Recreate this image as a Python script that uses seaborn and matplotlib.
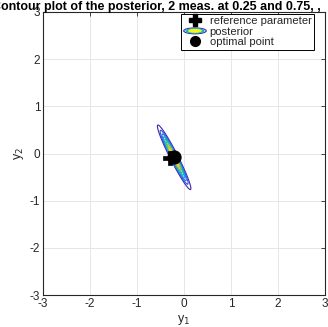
import numpy as np
import pandas as pd
import matplotlib
matplotlib.use("Agg")
import matplotlib.pyplot as plt
import seaborn as sns
from matplotlib.colors import LinearSegmentedColormap
from matplotlib.lines import Line2D
from matplotlib.patches import Ellipse
from matplotlib.legend_handler import HandlerPatch

# Posterior (Gaussian) parameters
post_mean = [-0.21, -0.08]
post_sigma_major = 0.35
post_sigma_minor = 0.038
post_angle_deg = -63.0

# Marked points
ref_param = [-0.30, -0.10]
opt_point = [-0.21, -0.07]

# Axis ticks
ticks = [-3, -2, -1, 0, 1, 2, 3]

sns.set_style("whitegrid")
plt.rcParams["font.family"] = ["Liberation Sans", "DejaVu Sans"]

parula = LinearSegmentedColormap.from_list(
    "parula_like",
    ["#3e26a8", "#2e5ff8", "#1a94dc", "#12b5c0", "#3cc48f", "#a6c040", "#f0ba3a", "#f9fb0e"],
)

fig = plt.figure(figsize=(3.28, 3.27), dpi=100)
ax = fig.add_axes([43 / 328, 32 / 327, 282 / 328, 283 / 327])

# Density grid of the posterior
g = np.linspace(-3, 3, 601)
X, Y = np.meshgrid(g, g)
th = np.deg2rad(post_angle_deg)
dx, dy = X - post_mean[0], Y - post_mean[1]
u = dx * np.cos(th) + dy * np.sin(th)
v = -dx * np.sin(th) + dy * np.cos(th)
Z = np.exp(-0.5 * ((u / post_sigma_major) ** 2 + (v / post_sigma_minor) ** 2))
ax.contour(X, Y, Z, levels=np.linspace(0.09, 0.95, 10), cmap=parula, linewidths=0.8)

pts = pd.DataFrame({"y1": [ref_param[0], opt_point[0]],
                    "y2": [ref_param[1], opt_point[1]],
                    "kind": ["reference parameter", "optimal point"]})
sns.scatterplot(data=pts[pts.kind == "reference parameter"], x="y1", y="y2", marker="P",
                s=90, color="black", edgecolor="black", linewidth=0.5, ax=ax, legend=False, zorder=5)
sns.scatterplot(data=pts[pts.kind == "optimal point"], x="y1", y="y2", marker="o",
                s=90, color="black", edgecolor="black", ax=ax, legend=False, zorder=6)

ax.set_xlim(-3, 3)
ax.set_ylim(-3, 3)
ax.set_xticks(ticks)
ax.set_yticks(ticks)
ax.set_xticklabels([str(t) for t in ticks])
ax.set_yticklabels([str(t) for t in ticks])
ax.tick_params(direction="in", length=3, width=0.6, labelsize=8.5, colors="#262626",
               top=True, right=True, pad=2)
ax.grid(True, color="#e6e6e6", linewidth=0.7)
for s in ax.spines.values():
    s.set_visible(True)
    s.set_color("#262626")
    s.set_linewidth(0.8)
ax.set_xlabel("y$_1$", fontsize=9, labelpad=2, color="#262626")
ax.set_ylabel("y$_2$", fontsize=9, labelpad=3, color="#262626")


class EllipseHandler(HandlerPatch):
    def create_artists(self, legend, orig_handle, xdescent, ydescent, width, height, fontsize, trans):
        cx, cy = 0.5 * width - xdescent, 0.5 * height - ydescent
        arts = []
        for w, h, c in [(1.0, 0.75, "#3e26a8"), (0.8, 0.55, "#12b5c0"), (0.55, 0.35, "#f9fb0e")]:
            e = Ellipse((cx, cy), width * w, height * h, facecolor="none" if c == "#3e26a8" else c,
                        edgecolor=c, linewidth=0.8)
            e.set_transform(trans)
            arts.append(e)
        return arts


h_ref = Line2D([], [], marker="P", color="black", linestyle="none", markersize=8)
h_post = Ellipse((0, 0), 1, 1)
h_opt = Line2D([], [], marker="o", color="black", linestyle="none", markersize=7)
leg = ax.legend([h_ref, h_post, h_opt], ["reference parameter", "posterior", "optimal point"],
                handler_map={Ellipse: EllipseHandler()}, loc="upper right",
                bbox_to_anchor=(0.96, 0.993), fontsize=8.1, frameon=True, fancybox=False,
                edgecolor="black", framealpha=1, borderpad=0.2, labelspacing=0.05,
                handlelength=2.0, handletextpad=0.3, borderaxespad=0)
leg.get_frame().set_linewidth(0.7)

fig.text(-8 / 328, 1 - 10 / 327, "Contour plot of the posterior, 2 meas. at 0.25 and 0.75, ,",
         fontsize=9.0, fontweight="bold", ha="left", va="baseline", color="black")

fig.savefig("out.png", dpi=100)
